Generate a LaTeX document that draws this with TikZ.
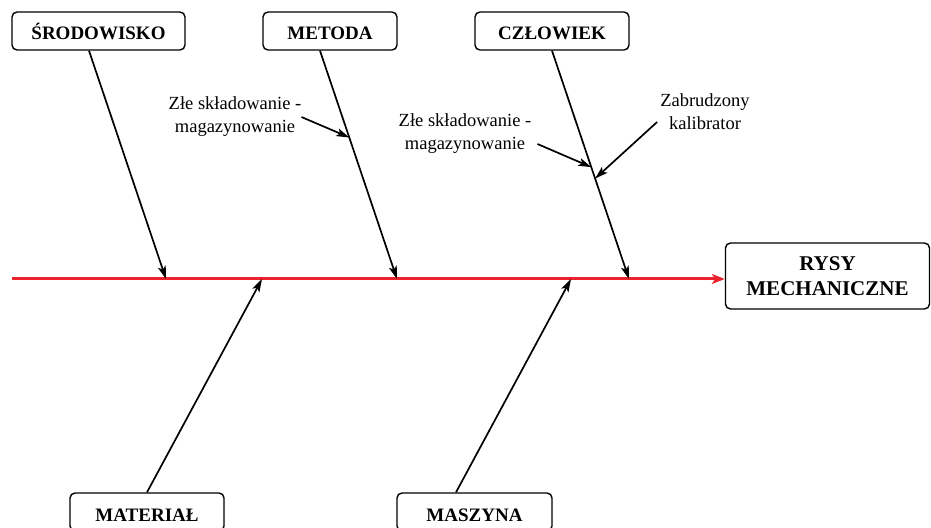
\documentclass[tikz,border=0pt]{standalone}
\usepackage{fontspec}
\setmainfont{Liberation Serif}
\usetikzlibrary{arrows.meta,calc}
\definecolor{spinered}{RGB}{236,34,44}
\begin{document}
\begin{tikzpicture}[x=1bp,y=-1bp,
  cat/.style={draw,rounded corners=5bp,line width=1.4bp,minimum height=38bp,inner sep=0pt,
    font=\fontsize{19bp}{24bp}\selectfont\bfseries},
  onecat/.style={cat,text height=18bp,text depth=0bp},
  lbl/.style={align=center,inner sep=0pt,font=\fontsize{18.5bp}{23bp}\selectfont},
  bone/.style={line width=1.7bp,-{Stealth[length=13bp,width=8bp,inset=3bp]}},
  spine/.style={line width=3bp,draw=spinered,-{Stealth[length=13bp,width=10bp,inset=3.5bp]}}]
\useasboundingbox (0,0) rectangle (931,528);
% category boxes
\node[onecat,minimum width=173bp] (srod) at (98.5,31) {ŚRODOWISKO};
\node[onecat,minimum width=134bp] (met) at (330,31) {METODA};
\node[onecat,minimum width=154bp] (czl) at (552,31) {CZŁOWIEK};
\node[cat,minimum width=204bp,minimum height=66bp,align=center,
  font=\fontsize{21bp}{25bp}\selectfont\bfseries] (rys) at (827.5,276) {RYSY\\MECHANICZNE};
\node[onecat,minimum width=154bp] (mat) at (147,512) {MATERIAŁ};
\node[onecat,minimum width=155bp] (masz) at (474.5,512) {MASZYNA};
% spine
\coordinate (tail) at (12,279);
\draw[spine] (tail) -- (rys.west |- tail);
\coordinate (s1) at (166,279);
\coordinate (s2) at (262,279);
\coordinate (s3) at (397,279);
\coordinate (s4) at (571,279);
\coordinate (s5) at (629,279);
% bones
\draw[bone] ([xshift=-9.5bp]srod.south) -- (s1);
\draw[bone] ([xshift=-10bp]met.south) -- (s3);
\draw[bone] (czl.south) -- (s5);
\draw[bone] (mat.north) -- (s2);
\draw[bone] ([xshift=-18.5bp]masz.north) -- (s4);
% points on bones
\path ([xshift=-10bp]met.south) -- (s3) coordinate[pos=0.38] (m1);
\path (czl.south) -- (s5) coordinate[pos=0.51] (c1) coordinate[pos=0.56] (c2);
% sub-cause labels
\node[lbl] (ml) at (235,117) {Złe składowanie -\\magazynowanie};
\node[lbl] (cl) at (465,134) {Złe składowanie -\\magazynowanie};
\node[lbl] (zk) at (705,112) {Zabrudzony\\kalibrator};
\draw[bone] (ml.east) -- (m1);
\draw[bone] ($(cl.east)+(6,10)$) -- (c1);
\draw[bone] ($(zk.west)+(-3,10)$) -- (c2);
\end{tikzpicture}
\end{document}
